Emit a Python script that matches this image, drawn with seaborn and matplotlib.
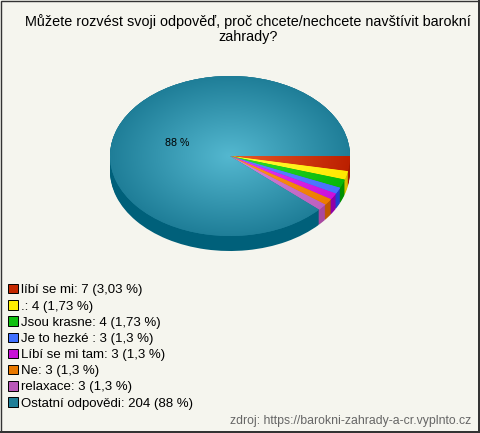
import numpy as np
import matplotlib
matplotlib.use("Agg")
import matplotlib.pyplot as plt
import seaborn as sns
from matplotlib.colors import LinearSegmentedColormap
from matplotlib.patches import Patch, Rectangle

title = "Můžete rozvést svoji odpověď, proč chcete/nechcete navštívit barokní\nzahrady?"
source = "zdroj: https://barokni-zahrady-a-cr.vyplnto.cz"
answers = ["líbí se mi", ".", "Jsou krasne", "Je to hezké ", "Líbí se mi tam", "Ne", "relaxace", "Ostatní odpovědi"]
counts = [7, 4, 4, 3, 3, 3, 3, 204]
shares = ["3,03", "1,73", "1,73", "1,3", "1,3", "1,3", "1,3", "88"]

swatch = ["#c42800", "#ffee00", "#10c010", "#4070ff", "#c810d8", "#e87800", "#b858b8", "#207f98"]
inner = ["#ea5a28", "#ffff40", "#30e030", "#6088ff", "#e840f0", "#ff9a20", "#d888d8", "#54b8d0"]
outer = ["#bc2000", "#ffe800", "#08b808", "#4870ff", "#cc10dc", "#ec7c00", "#bc60c0", "#1f7e98"]
side = ["#a01800", "#d8c000", "#009000", "#2040d0", "#9000a8", "#c05800", "#a848a0", "#00607a"]

W, H = 480, 433
BG = "#f5f5ee"
DEPTH = 15 / 80

sns.set_theme(style="white", rc={"figure.facecolor": BG, "axes.facecolor": "none"})
plt.rcParams["font.family"] = ["Liberation Sans", "DejaVu Sans"]

fig = plt.figure(figsize=(W / 100, H / 100), dpi=100)
ax = fig.add_axes([110 / W, 1 - 251 / H, 240 / W, 175 / H])

# side wall: stack of dark pies going down
for off in np.linspace(DEPTH, 0, 16):
    ax.pie(counts, colors=sns.color_palette(side), startangle=0, counterclock=False,
           center=(0, -off), radius=1, wedgeprops={"linewidth": 0, "antialiased": True})

# top face, every wedge filled with its own radial gradient
wedges, _, pct = ax.pie(counts, colors=sns.color_palette(outer), startangle=0, counterclock=False,
                        autopct=lambda p: "88 %" if p > 50 else "", pctdistance=0.47,
                        textprops={"fontsize": 7.7, "color": "black"},
                        wedgeprops={"linewidth": 0})
yy, xx = np.mgrid[-1:1:300j, -1:1:300j]
rr = np.clip(np.hypot(xx, yy), 0, 1)
for w, c0, c1 in zip(wedges, inner, outer):
    cmap = LinearSegmentedColormap.from_list("w", [c0, c1])
    im = ax.imshow(rr, cmap=cmap, vmin=0, vmax=1, extent=(-1, 1, -1, 1), origin="lower",
                   aspect="auto", zorder=3, interpolation="bilinear")
    im.set_clip_path(w)
for t in pct:
    t.set_zorder(5)

ax.set_aspect("auto")
ax.set_xlim(-1, 1)
ax.set_ylim(-1 - DEPTH, 1)

fig.text(248 / W, 1 - 14 / H, title, ha="center", va="top", fontsize=10.4, color="black", linespacing=1.08)

labels = [f"{a}: {c} ({s} %)" for a, c, s in zip(answers, counts, shares)]
handles = [Patch(facecolor=c, edgecolor="black", linewidth=0.7) for c in swatch]
fig.legend(handles, labels, loc="upper left", bbox_to_anchor=(8 / W, 1 - 284 / H), frameon=False,
           fontsize=9.5, labelspacing=0.29, handlelength=0.73, handleheight=0.73, handletextpad=0.25,
           borderpad=0, borderaxespad=0, labelcolor="black")

fig.text(471 / W, 1 - 421 / H, source, ha="right", va="center", fontsize=8.85, color="#666666")

# thin dark frame round the picture
fig.add_artist(Rectangle((0.5 / W, 1.5 / H), 1 - 2 / W, 1 - 2.5 / H, transform=fig.transFigure,
                         fill=False, edgecolor="#333333", linewidth=1.0))
fig.add_artist(Rectangle((W - 2, 0), 2, H, transform=None, color="#333333", linewidth=0))
fig.add_artist(Rectangle((0, 0), W, 2, transform=None, color="#333333", linewidth=0))

fig.savefig("out.png", dpi=100, facecolor=BG)
